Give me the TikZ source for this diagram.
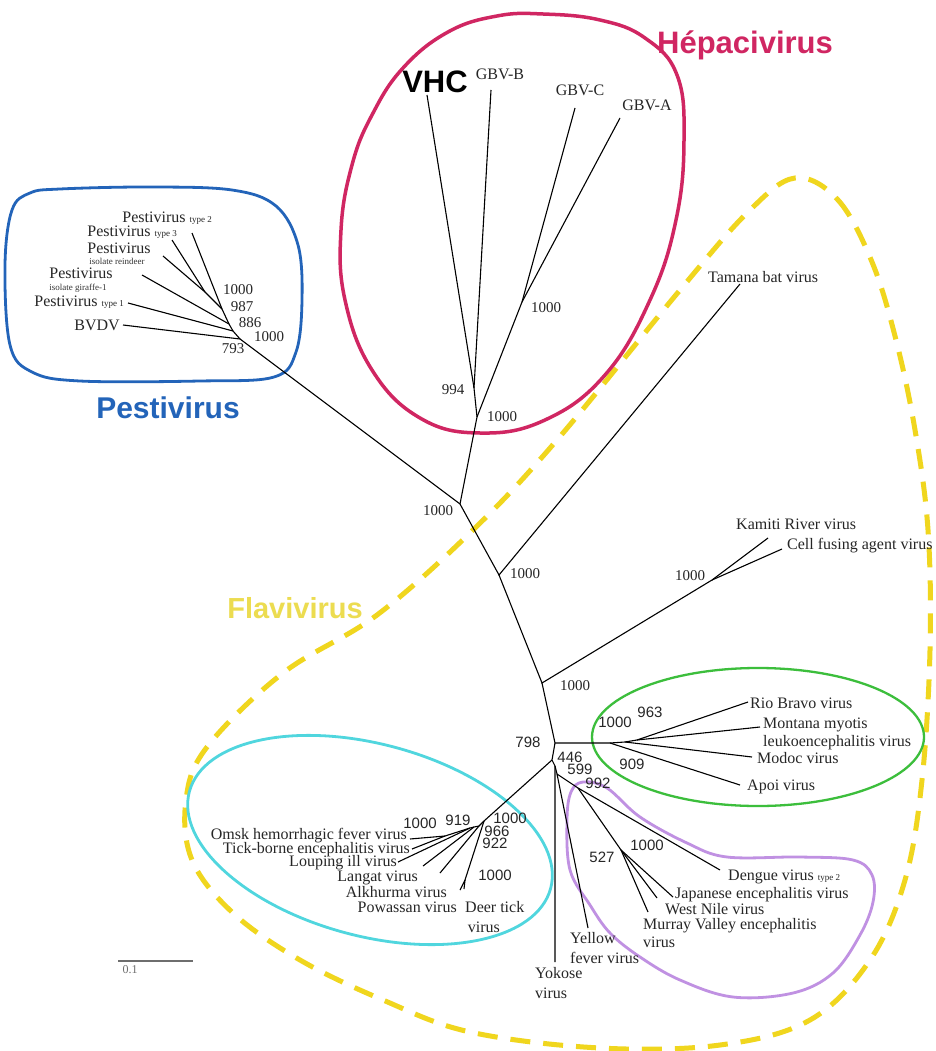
\documentclass[tikz,border=0pt]{standalone}
\usepackage{fontspec}
\setmainfont{Liberation Serif}
\setsansfont{Liberation Sans}
\definecolor{hepa}{RGB}{208,38,98}
\definecolor{pesti}{RGB}{35,100,185}
\definecolor{flavi}{RGB}{240,214,30}
\definecolor{flavitext}{RGB}{236,220,80}
\definecolor{greenc}{RGB}{60,190,60}
\definecolor{cyanc}{RGB}{80,214,222}
\definecolor{purplec}{RGB}{192,145,226}
\definecolor{barc}{RGB}{110,110,110}
\newcommand{\tinytxt}[1]{{\fontsize{9}{10}\selectfont #1}}
\begin{document}
\begin{tikzpicture}[x=1pt,y=-1pt,
  branch/.style={line width=1.1pt, black},
  lab/.style={font=\fontsize{16}{18}\selectfont, inner sep=0pt, text=black!85, align=left},
  tinylab/.style={font=\fontsize{9}{10}\selectfont, inner sep=0pt, text=black!80},
  num/.style={font=\fontsize{15}{16}\selectfont, inner sep=0pt, text=black!85},
  snum/.style={font=\sffamily\fontsize{15}{16}\selectfont, inner sep=0pt, text=black!85},
  group/.style={font=\sffamily\bfseries\fontsize{30}{32}\selectfont, inner sep=0pt},
  ring/.style={line width=2.8pt}]
\useasboundingbox (0,0) rectangle (936,1051);
\fill[white] (0,0) rectangle (936,1051);

% ---------- outlines ----------
\draw[flavi, line width=5pt, dash pattern=on 20pt off 13pt]
  plot[smooth cycle, tension=0.6] coordinates {
  (795,178) (838,200) (872,262) (896,340) (915,430) (928,530) (930,650)
  (922,780) (905,880) (870,960) (810,1020) (720,1045) (600,1048) (470,1032)
  (383,1000) (300,960) (233,913) (192,860) (186,800) (207,747) (283,673)
  (377,615) (473,530) (557,440) (680,290) (748,212)};

\draw[hepa, line width=3.5pt]
  plot[smooth cycle, tension=0.7] coordinates {
  (543,14) (600,20) (645,38) (677,75) (684,140) (676,220) (650,300)
  (605,375) (545,420) (480,433) (420,418) (372,370) (345,300) (341,230)
  (352,165) (372,115) (403,68) (448,32) (497,16)};

\draw[pesti, ring]
  plot[smooth cycle, tension=0.6] coordinates {
  (60,189) (150,187) (232,190) (276,206) (298,245) (302,300) (296,352)
  (274,377) (200,381) (80,381) (32,372) (10,345) (5,265) (12,210) (30,193)};

\draw[greenc, line width=2.3pt] (758,737) ellipse [x radius=166pt, y radius=69pt];

\draw[cyanc, ring, rotate around={-15:(370,840)}] (370,840) ellipse [x radius=187pt, y radius=96pt];

\draw[purplec, ring]
  plot[smooth cycle, tension=0.6] coordinates {
  (583,782) (607,788) (640,817) (687,843) (727,857) (800,857) (853,860)
  (872,875) (873,902) (860,935) (833,973) (793,993) (733,997) (680,980)
  (640,957) (610,933) (590,905) (570,870) (567,820) (571,792)};

% ---------- tree coordinates ----------
\coordinate (A) at (460,504);
\coordinate (H) at (477,417);
\coordinate (H2) at (474,388);
\coordinate (HG) at (522,302);
\coordinate (tVHC) at (427,95);
\coordinate (tGBVB) at (491,90);
\coordinate (tGBVC) at (575,108);
\coordinate (tGBVA) at (620,118);

\coordinate (P0) at (240,339);
\coordinate (P1) at (233,331);
\coordinate (P2) at (229,324);
\coordinate (P3) at (222,309);
\coordinate (P4) at (205,292);
\coordinate (tBVDV) at (123,325);
\coordinate (tT1) at (128,303);
\coordinate (tGir) at (142,275);
\coordinate (tRein) at (163,256);
\coordinate (tT3) at (172,240);
\coordinate (tT2) at (192,233);

\coordinate (B) at (499,575);
\coordinate (tTam) at (740,284);
\coordinate (C) at (542,683);
\coordinate (K) at (712,580);
\coordinate (tKam) at (768,538);
\coordinate (tCFA) at (782,549);
\coordinate (D) at (555,743);
\coordinate (G1) at (610,743);
\coordinate (G2) at (625,742);
\coordinate (G3) at (637,740);
\coordinate (tApoi) at (740,785);
\coordinate (tModoc) at (752,757);
\coordinate (tMont) at (760,727);
\coordinate (tRio) at (748,702);

\coordinate (E) at (552,760);
\coordinate (E2) at (555,766);
\coordinate (E3) at (557,774);
\coordinate (tYok) at (555,962);
\coordinate (tYF) at (588,928);
\coordinate (F) at (578,788);
\coordinate (F2) at (621,850);
\coordinate (tDen) at (720,870);
\coordinate (tJap) at (673,897);
\coordinate (tWN) at (657,898);
\coordinate (tMV) at (648,912);

\coordinate (Cy1) at (484,821);
\coordinate (Cy2) at (479,826);
\coordinate (Cy3) at (474,827);
\coordinate (Cy4) at (470,828);
\coordinate (Cy5) at (445,836);
\coordinate (DP) at (465,880);
\coordinate (tAlk) at (440,873);
\coordinate (tLan) at (423,866);
\coordinate (tLou) at (398,862);
\coordinate (tOmsk) at (410,839);
\coordinate (tTBE) at (412,849);
\coordinate (tPow) at (460,890);
\coordinate (tDeer) at (464,889);

% ---------- branches ----------
\draw[branch] (A) -- (H) -- (H2) -- (tVHC);
\draw[branch] (H2) -- (tGBVB);
\draw[branch] (H) -- (HG) -- (tGBVC);
\draw[branch] (HG) -- (tGBVA);

\draw[branch] (A) -- (P0) -- (tBVDV);
\draw[branch] (P0) -- (P1) -- (tT1);
\draw[branch] (P1) -- (P2) -- (tGir);
\draw[branch] (P2) -- (P3) -- (tT2);
\draw[branch] (P3) -- (P4) -- (tRein);
\draw[branch] (P4) -- (tT3);

\draw[branch] (A) -- (B) -- (tTam);
\draw[branch] (B) -- (C) -- (K) -- (tKam);
\draw[branch] (K) -- (tCFA);
\draw[branch] (C) -- (D) -- (G1) -- (tApoi);
\draw[branch] (G1) -- (G2) -- (tModoc);
\draw[branch] (G2) -- (G3) -- (tMont);
\draw[branch] (G3) -- (tRio);

\draw[branch] (D) -- (E) -- (E2) -- (tYok);
\draw[branch] (E2) -- (E3) -- (tYF);
\draw[branch] (E3) -- (F) -- (tDen);
\draw[branch] (F) -- (F2) -- (tJap);
\draw[branch] (F2) -- (tWN);
\draw[branch] (F2) -- (tMV);

\draw[branch] (E) -- (Cy1) -- (Cy2) -- (tAlk);
\draw[branch] (Cy2) -- (Cy3) -- (tLan);
\draw[branch] (Cy3) -- (Cy4) -- (tLou);
\draw[branch] (Cy4) -- (Cy5) -- (tOmsk);
\draw[branch] (Cy5) -- (tTBE);
\draw[branch] (Cy1) -- (DP) -- (tPow);
\draw[branch] (DP) -- (tDeer);

% ---------- scale bar ----------
\coordinate (sb1) at (118,961);
\coordinate (sb2) at (193,961);
\draw[barc, line width=1.8pt] (sb1) -- (sb2);
\node[font=\fontsize{12}{13}\selectfont, text=barc, inner sep=0pt] (sbl) at (130,970) {0.1};

% ---------- group labels ----------
\node[group, text=hepa, font=\sffamily\bfseries\fontsize{31}{33}\selectfont] (gHep) at (745,45) {Hépacivirus};
\node[group, text=pesti] (gPes) at (168,408) {Pestivirus};
\node[group, text=flavitext, font=\sffamily\bfseries\fontsize{29}{31}\selectfont] (gFla) at (295,608) {Flavivirus};

% ---------- Hepacivirus leaves ----------
\node[font=\sffamily\bfseries\fontsize{31}{33}\selectfont, inner sep=0pt] (lVHC) at (435,82) {VHC};
\node[lab, anchor=center] (lGBVB) at (500,74) {GBV-B};
\node[lab, anchor=center] (lGBVC) at (580,90) {GBV-C};
\node[lab, anchor=center] (lGBVA) at (647,105) {GBV-A};
\node[num] (n994) at (453,390) {994};
\node[num] (nH) at (502,417) {1000};
\node[num] (nHG) at (546,308) {1000};

% ---------- Pestivirus leaves ----------
\node[lab, anchor=east] (lT2) at (212,218) {Pestivirus \tinytxt{type 2}};
\node[lab, anchor=east] (lT3) at (177,232) {Pestivirus \tinytxt{type 3}};
\node[lab] (lRein) at (119,248) {Pestivirus};
\node[tinylab] (lRein2) at (117,261) {isolate reindeer};
\node[lab] (lGir) at (81,273) {Pestivirus};
\node[tinylab] (lGir2) at (78,288) {isolate giraffe-1};
\node[lab, anchor=east] (lT1) at (124,302) {Pestivirus \tinytxt{type 1}};
\node[lab, anchor=east] (lBVDV) at (120,325) {BVDV};
\node[num] (nP4) at (238,290) {1000};
\node[num] (nP3) at (242,307) {987};
\node[num] (nP2) at (250,323) {886};
\node[num] (nP1) at (269,337) {1000};
\node[num] (nP0) at (233,349) {793};

% ---------- backbone numbers ----------
\node[num] (nA) at (438,511) {1000};
\node[num] (nB) at (525,574) {1000};
\node[num] (nC) at (575,686) {1000};
\node[num] (nK) at (690,576) {1000};
\node[snum] (nD) at (528,742) {798};

% ---------- Flavivirus leaves ----------
\node[lab, anchor=west] (lTam) at (708,277) {Tamana bat virus};
\node[lab, anchor=west] (lKam) at (736,524) {Kamiti River virus};
\node[lab, anchor=west] (lCFA) at (787,546) {Cell fusing agent virus};

\node[lab, anchor=west] (lRio) at (750,703) {Rio Bravo virus};
\node[lab, anchor=west] (lMont) at (763,734) {Montana myotis\\leukoencephalitis virus};
\node[lab, anchor=west] (lModoc) at (757,758) {Modoc virus};
\node[lab, anchor=west] (lApoi) at (747,787) {Apoi virus};
\node[snum] (nG1) at (615,722) {1000};
\node[snum] (nG3) at (650,712) {963};
\node[snum] (nG2) at (632,764) {909};

\node[snum] (nE) at (570,757) {446};
\node[snum] (nE3) at (580,769) {599};
\node[snum] (nF) at (598,783) {992};
\node[snum] (nF2a) at (647,845) {1000};
\node[snum] (nF2) at (602,857) {527};
\node[lab, anchor=west] (lDen) at (728,877) {Dengue virus \tinytxt{type 2}};
\node[lab, anchor=west] (lJap) at (675,895) {Japanese encephalitis virus};
\node[lab, anchor=west] (lWN) at (665,909) {West Nile virus};
\node[lab, anchor=west] (lMV) at (643,933) {Murray Valley encephalitis\\virus};
\node[lab, anchor=west, font=\fontsize{16}{20}\selectfont] (lYF) at (570,948) {Yellow\\fever virus};
\node[lab, anchor=west, font=\fontsize{16}{20}\selectfont] (lYok) at (535,983) {Yokose\\virus};

\node[snum] (nCy1) at (510,818) {1000};
\node[snum] (nCy2) at (497,831) {966};
\node[snum] (nCy3) at (495,843) {922};
\node[snum] (nDP) at (495,875) {1000};
\node[snum] (nCy4) at (458,820) {919};
\node[snum] (nCy5) at (420,823) {1000};
\node[lab, anchor=east] (lOmsk) at (407,836) {Omsk hemorrhagic fever virus};
\node[lab, anchor=east] (lTBE) at (410,850) {Tick-borne encephalitis virus};
\node[lab, anchor=east] (lLou) at (397,863) {Louping ill virus};
\node[lab, anchor=east] (lLan) at (418,878) {Langat virus};
\node[lab, anchor=east] (lAlk) at (447,892) {Alkhurma virus};
\node[lab, anchor=east] (lPow) at (457,907) {Powassan virus};
\node[lab, anchor=west, font=\fontsize{16}{20}\selectfont] (lDeer) at (465,917) {Deer tick\\\,virus};
\end{tikzpicture}
\end{document}
